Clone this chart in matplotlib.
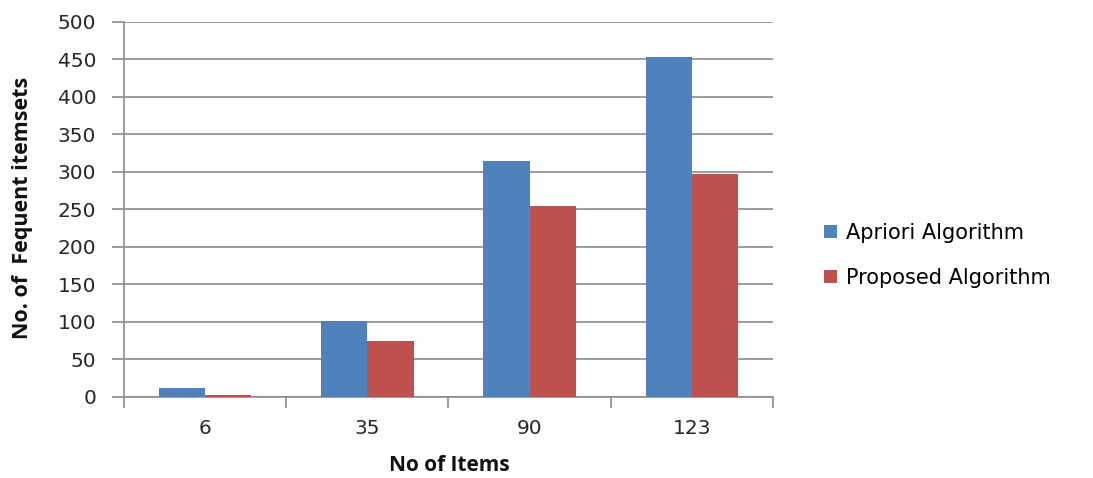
import matplotlib
matplotlib.use("Agg")
import matplotlib.pyplot as plt
import numpy as np

categories = ["6", "35", "90", "123"]
apriori = [12, 101, 314, 453]
proposed = [3, 74, 254, 297]
series_names = ["Apriori Algorithm", "Proposed Algorithm"]
yticks = [0, 50, 100, 150, 200, 250, 300, 350, 400, 450, 500]

blue = "#4F81BD"
red = "#C0504D"
grid_c = "#8C8C8C"
txt_c = "#262626"

fig = plt.figure(figsize=(10.93, 4.78), dpi=100)
ax = fig.add_axes([0.1134, 0.1695, 0.5937, 0.7845])

x = np.arange(len(categories))
w = 0.285
b1 = ax.bar(x - w/2, apriori, w, color=blue, label=series_names[0], zorder=3)
b2 = ax.bar(x + w/2, proposed, w, color=red, label=series_names[1], zorder=3)

ax.set_xlim(-0.5, len(categories) - 0.5)
ax.set_ylim(0, 500)
ax.set_yticks(yticks)
ax.yaxis.grid(True, color=grid_c, linewidth=1.2, zorder=0)
ax.set_axisbelow(True)
for s in ["top", "right"]:
    ax.spines[s].set_visible(False)
for s in ["left", "bottom"]:
    ax.spines[s].set_color(grid_c)
    ax.spines[s].set_linewidth(1.2)

ax.set_xticks(x)
ax.set_xticklabels(categories)
ax.tick_params(axis="x", length=0, pad=16, labelsize=14.5, labelcolor=txt_c)
ax.set_xticks(np.arange(-0.5, len(categories)), minor=True)
ax.tick_params(axis="x", which="minor", length=8, color=grid_c, width=1.2)
ax.tick_params(axis="y", length=9, color=grid_c, width=1.2, labelsize=14.5, pad=11, labelcolor=txt_c)

ax.set_xlabel("No of Items", fontsize=15, fontweight="bold", family="Open Sans", color="#111111")
ax.xaxis.set_label_coords(0.5008, -0.155)
ax.xaxis.label.set_va("top")
ax.set_ylabel("No. of  Fequent itemsets", fontsize=15.5, fontweight="bold", family="Open Sans", color="#111111")
ax.yaxis.set_label_coords(-0.140, 0.505)

fig.legend(handles=[b1, b2], labels=series_names, loc="upper left",
           bbox_to_anchor=(0.737, 0.573), frameon=False, fontsize=15,
           handlelength=0.6, handleheight=0.6, handletextpad=0.45, labelspacing=1.2)

fig.savefig("out.png", dpi=100)
